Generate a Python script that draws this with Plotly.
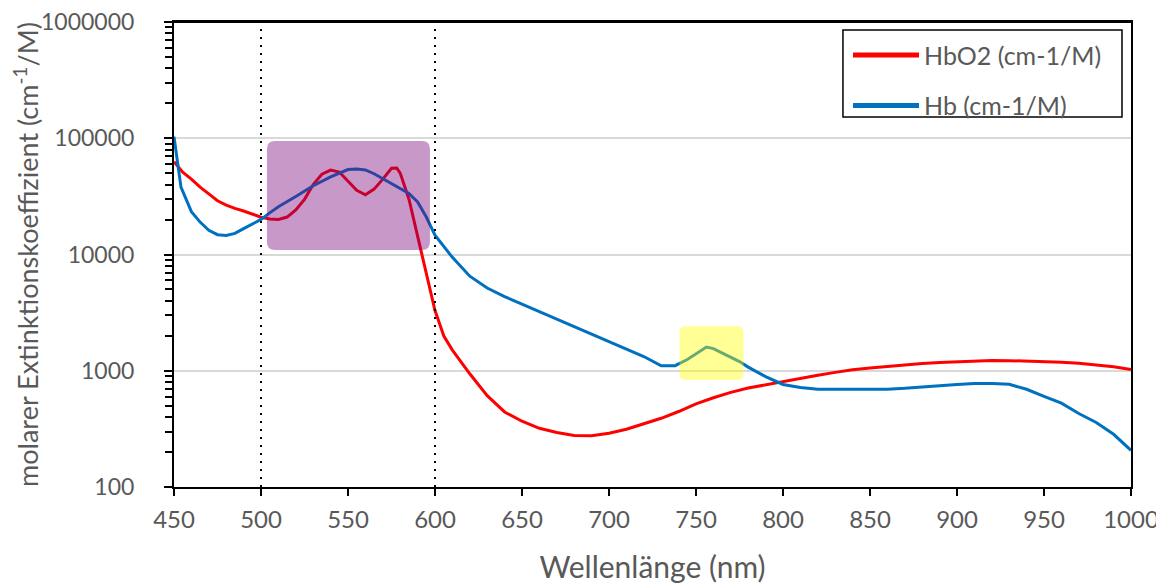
import plotly.graph_objects as go

# wavelength (nm)
wl_hbo2 = [450, 455, 460, 465, 470, 475, 480, 485, 490, 495, 500, 505, 510, 515, 520, 525,
           530, 535, 540, 545, 550, 555, 560, 565, 570, 575, 578, 580, 585, 590, 595, 600,
           602, 605, 610, 620, 630, 640, 650, 660, 670, 680, 690, 700, 710, 720, 730, 740,
           750, 760, 770, 780, 790, 800, 810, 820, 830, 840, 850, 860, 870, 880, 890, 900,
           910, 920, 930, 940, 950, 960, 970, 980, 990, 1000]
hbo2 = [62816, 51000, 44480, 38000, 33209, 29000, 26629, 24900, 23684, 22200, 20933, 20200,
        20035, 21000, 24202, 29800, 39957, 49000, 53236, 51200, 43016, 35600, 32613, 36500,
        44496, 55200, 55500, 50104, 30000, 14401, 7000, 3300, 2700, 2000, 1506, 942, 610, 442,
        368, 320, 294, 278, 276, 290, 314, 348, 390, 446, 518, 586, 652, 710, 756, 816, 864,
        916, 968, 1020, 1058, 1092, 1128, 1154, 1178, 1198, 1214, 1224, 1222, 1214, 1204, 1186,
        1162, 1128, 1080, 1024]

wl_hb = [450, 452, 454, 460, 465, 470, 475, 480, 485, 490, 495, 500, 505, 510, 520, 530, 540,
         550, 555, 560, 565, 570, 575, 580, 585, 590, 595, 600, 610, 620, 630, 640, 650, 660,
         670, 680, 690, 700, 710, 720, 730, 738, 745, 750, 756, 760, 770, 775, 780, 790, 800,
         810, 820, 830, 840, 850, 860, 870, 880, 890, 900, 910, 920, 930, 940, 950, 960, 970,
         980, 990, 1000]
hb = [103292, 65000, 38000, 23389, 19000, 16156, 14800, 14550, 15200, 16684, 18200, 20035,
      22800, 25774, 31590, 39036, 46592, 53788, 54300, 53412, 49500, 45072, 41000, 37020,
      33500, 28324, 21000, 14677, 9444, 6510, 5149, 4345, 3750, 3227, 2795, 2408, 2052, 1794,
      1540, 1326, 1102, 1105, 1250, 1405, 1600, 1549, 1312, 1200, 1075, 891, 762, 717, 694,
      693, 692, 691, 694, 706, 726, 744, 762, 775, 777, 764, 693, 602, 526, 429, 359, 284, 207]

series_names = ["HbO2 (cm-1/M)", "Hb (cm-1/M)"]
series_colors = ["#FF0000", "#0070C0"]

x_ticks = [450, 500, 550, 600, 650, 700, 750, 800, 850, 900, 950, 1000]
y_ticks = [100, 1000, 10000, 100000, 1000000]
y_ticktext = ["100", "1000", "10000", "100000", "1000000"]
y_minor = [k * d for d in [100, 1000, 10000, 100000] for k in range(2, 10)]

marker_lines = [500, 600]
band_purple = dict(x0=503.4, x1=597.1, y0=10940, y1=94600)
band_yellow = dict(x0=740.5, x1=777.3, y0=835, y1=2420)

FONT = "Lato, 'Open Sans', sans-serif"
GREY = "#595959"

fig = go.Figure()
data_sets = [(wl_hbo2, hbo2), (wl_hb, hb)]
for i, (xs, ys) in enumerate(data_sets):
    fig.add_trace(go.Scatter(x=xs, y=ys, mode="lines", name=series_names[i],
                             line=dict(color=series_colors[i], width=3), showlegend=False))
# legend entries (thicker sample lines as in the reference)
for i in range(2):
    fig.add_trace(go.Scatter(x=[None], y=[None], mode="lines", name=series_names[i],
                             line=dict(color=series_colors[i], width=5),
                             legendgroup=f"g{i}", showlegend=True))


def rounded_rect(x0, x1, y0, y1, rx, fy):
    return (f"M {x0+rx},{y0} L {x1-rx},{y0} Q {x1},{y0} {x1},{y0*fy} "
            f"L {x1},{y1/fy} Q {x1},{y1} {x1-rx},{y1} "
            f"L {x0+rx},{y1} Q {x0},{y1} {x0},{y1/fy} "
            f"L {x0},{y0*fy} Q {x0},{y0} {x0+rx},{y0} Z")


shapes = []
for xv in marker_lines:
    shapes.append(dict(type="line", xref="x", yref="paper", x0=xv, x1=xv, y0=0, y1=0.985,
                       line=dict(color="black", width=2, dash="2px,6px"), layer="above"))
shapes.append(dict(type="path", xref="x", yref="y",
                   path=rounded_rect(band_purple["x0"], band_purple["x1"],
                                     band_purple["y0"], band_purple["y1"], 4.5, 1.17),
                   fillcolor="rgba(117,0,117,0.4)", line=dict(width=0), layer="above"))
shapes.append(dict(type="path", xref="x", yref="y",
                   path=rounded_rect(band_yellow["x0"], band_yellow["x1"],
                                     band_yellow["y0"], band_yellow["y1"], 3.5, 1.12),
                   fillcolor="rgba(255,255,0,0.41)", line=dict(width=0), layer="above"))
# legend frame
shapes.append(dict(type="rect", xref="paper", yref="paper", x0=0.699, x1=0.9906,
                   y0=0.7957, y1=0.9828, line=dict(color="black", width=1.5),
                   fillcolor="rgba(0,0,0,0)", layer="above"))
# top frame line of the plot area
shapes.append(dict(type="line", xref="paper", yref="paper", x0=0, x1=1, y0=1, y1=1,
                   line=dict(color="black", width=2), layer="above"))

# the page body adds an 8px offset, so margins are shifted by 8px
fig.update_layout(
    width=1164, height=583,
    margin=dict(l=166, r=41, t=14, b=104),
    paper_bgcolor="white", plot_bgcolor="white",
    font=dict(family=FONT, color=GREY, size=24),
    shapes=shapes,
    showlegend=True,
    legend=dict(x=0.7043, y=0.978, xanchor="left", yanchor="top",
                borderwidth=0, bgcolor="rgba(0,0,0,0)",
                font=dict(size=25, color=GREY, family=FONT),
                itemwidth=66, tracegroupgap=15),
    xaxis=dict(range=[450, 1000], tickvals=x_ticks, ticks="outside", ticklen=7,
               tickwidth=2, tickcolor="black", showline=True, linecolor="black",
               linewidth=2, mirror=True, showgrid=False, zeroline=False, automargin=False,
               tickfont=dict(size=24, color=GREY), ticklabelstandoff=3,
               ticklabeloverflow="allow",
               title=dict(text="Wellenlänge (nm)", font=dict(size=30, color=GREY), standoff=25)),
    yaxis=dict(type="log", range=[2, 6], tickvals=y_ticks, ticktext=y_ticktext,
               ticks="outside", ticklen=8, tickwidth=2, tickcolor="black",
               minor=dict(tickvals=y_minor, ticks="outside", ticklen=7, tickwidth=1.5,
                          tickcolor="black", showgrid=False),
               showline=True, linecolor="black", linewidth=2, mirror=True,
               showgrid=True, gridcolor="#D9D9D9", gridwidth=1.5, zeroline=False,
               automargin=False, ticklabelstandoff=25, ticklabeloverflow="allow",
               tickfont=dict(size=23, color=GREY),
               title=dict(text="molarer Extinktionskoeffizient (cm<sup>-1</sup>/M)",
                          font=dict(size=27, color=GREY), standoff=9)),
)

fig.write_html("out.html")
